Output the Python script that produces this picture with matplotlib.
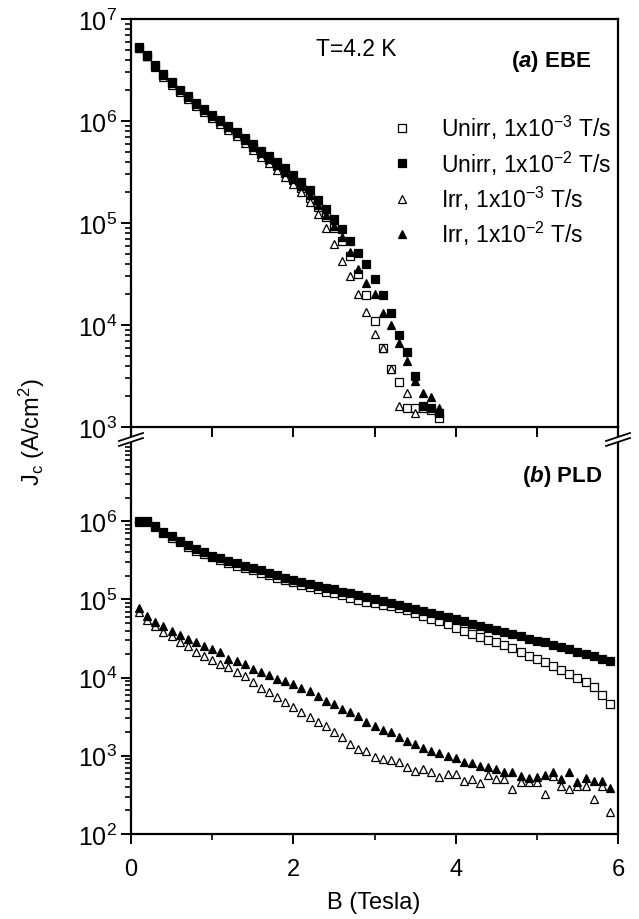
import numpy as np
import matplotlib
matplotlib.use("Agg")
import matplotlib.pyplot as plt
from matplotlib.ticker import FixedLocator, LogLocator, NullFormatter, LogFormatterSciNotation
from matplotlib.lines import Line2D

plt.rcParams['font.family'] = ['Liberation Sans', 'DejaVu Sans']
plt.rcParams['mathtext.fontset'] = 'custom'
plt.rcParams['mathtext.rm'] = 'Liberation Sans'
plt.rcParams['mathtext.it'] = 'Liberation Sans:italic'
plt.rcParams['mathtext.bf'] = 'Liberation Sans:bold'
plt.rcParams['mathtext.bfit'] = 'Liberation Sans:italic:bold'

# ---------------- data (log10 of Jc in A/cm^2) ----------------
# (a) EBE
B_top = [0.1, 0.2, 0.3, 0.4, 0.5, 0.6, 0.7, 0.8, 0.9, 1.0, 1.1, 1.2, 1.3, 1.4, 1.5, 1.6, 1.7, 1.8, 1.9,
         2.0, 2.1, 2.2, 2.3, 2.4, 2.5, 2.6, 2.7, 2.8, 2.9, 3.0, 3.1, 3.2, 3.3, 3.4, 3.5, 3.6, 3.7, 3.8]
top_unirr_3 = [6.72, 6.64, 6.54, 6.45, 6.37, 6.29, 6.23, 6.16, 6.10, 6.04, 5.99, 5.93, 5.87, 5.81, 5.75, 5.68,
               5.62, 5.56, 5.49, 5.42, 5.34, 5.25, 5.16, 5.06, 4.95, 4.82, 4.68, 4.50, 4.29, 4.04, 3.77, 3.57,
               3.44, 3.19, 3.19, 3.19, 3.17, 3.09]
top_unirr_2 = [6.73, 6.65, 6.55, 6.46, 6.38, 6.30, 6.25, 6.18, 6.12, 6.06, 6.01, 5.95, 5.89, 5.83, 5.77, 5.71,
               5.66, 5.60, 5.54, 5.47, 5.40, 5.32, 5.23, 5.14, 5.04, 4.94, 4.82, 4.71, 4.60, 4.45, 4.29, 4.12,
               3.90, 3.74, 3.50, 3.21, 3.19, 3.14]
B_top_irr3 = [0.1, 0.2, 0.3, 0.4, 0.5, 0.6, 0.7, 0.8, 0.9, 1.0, 1.1, 1.2, 1.3, 1.4, 1.5, 1.6, 1.7, 1.8, 1.9,
              2.0, 2.1, 2.2, 2.3, 2.4, 2.5, 2.6, 2.7, 2.8, 2.9, 3.0, 3.1, 3.2, 3.3, 3.4, 3.5]
top_irr_3 = [6.72, 6.64, 6.53, 6.43, 6.35, 6.28, 6.22, 6.15, 6.09, 6.03, 5.97, 5.91, 5.85, 5.78, 5.72, 5.65,
             5.59, 5.52, 5.45, 5.38, 5.30, 5.21, 5.09, 4.95, 4.79, 4.63, 4.48, 4.30, 4.13, 3.91, 3.77, 3.57,
             3.21, 3.33, 3.14]
top_irr_2 = [6.73, 6.64, 6.54, 6.45, 6.37, 6.30, 6.24, 6.17, 6.11, 6.05, 6.00, 5.94, 5.88, 5.81, 5.75, 5.69,
             5.63, 5.57, 5.50, 5.43, 5.36, 5.27, 5.18, 5.08, 4.97, 4.86, 4.72, 4.55, 4.41, 4.30, 4.12, 4.00,
             3.82, 3.65, 3.45, 3.33, 3.29, 3.19]

# (b) PLD
B_bot = [0.1, 0.2, 0.3, 0.4, 0.5, 0.6, 0.7, 0.8, 0.9, 1.0, 1.1, 1.2, 1.3, 1.4, 1.5, 1.6, 1.7, 1.8, 1.9, 2.0,
         2.1, 2.2, 2.3, 2.4, 2.5, 2.6, 2.7, 2.8, 2.9, 3.0, 3.1, 3.2, 3.3, 3.4, 3.5, 3.6, 3.7, 3.8, 3.9, 4.0,
         4.1, 4.2, 4.3, 4.4, 4.5, 4.6, 4.7, 4.8, 4.9, 5.0, 5.1, 5.2, 5.3, 5.4, 5.5, 5.6, 5.7, 5.8, 5.9]
bot_unirr_3 = [5.99, 5.99, 5.93, 5.85, 5.79, 5.73, 5.67, 5.62, 5.58, 5.54, 5.50, 5.46, 5.43, 5.40, 5.37, 5.34,
               5.31, 5.28, 5.25, 5.22, 5.19, 5.16, 5.13, 5.10, 5.08, 5.05, 5.02, 4.99, 4.97, 4.95, 4.93, 4.91,
               4.89, 4.86, 4.82, 4.79, 4.75, 4.72, 4.68, 4.64, 4.60, 4.56, 4.52, 4.48, 4.45, 4.42, 4.38, 4.33,
               4.28, 4.24, 4.20, 4.15, 4.10, 4.05, 4.00, 3.94, 3.88, 3.78, 3.66]
bot_unirr_2 = [6.00, 6.00, 5.94, 5.86, 5.81, 5.75, 5.69, 5.64, 5.60, 5.56, 5.53, 5.49, 5.46, 5.43, 5.40, 5.37,
               5.34, 5.31, 5.28, 5.25, 5.22, 5.20, 5.17, 5.15, 5.13, 5.10, 5.08, 5.06, 5.03, 5.01, 4.98, 4.96,
               4.93, 4.90, 4.88, 4.85, 4.83, 4.80, 4.78, 4.75, 4.72, 4.69, 4.66, 4.64, 4.61, 4.58, 4.56, 4.53,
               4.50, 4.47, 4.45, 4.42, 4.39, 4.36, 4.33, 4.30, 4.27, 4.24, 4.21]
bot_irr_3 = [4.84, 4.74, 4.66, 4.58, 4.53, 4.46, 4.40, 4.33, 4.28, 4.23, 4.17, 4.13, 4.07, 4.02, 3.94, 3.87,
             3.82, 3.75, 3.69, 3.62, 3.56, 3.49, 3.43, 3.38, 3.30, 3.24, 3.15, 3.09, 3.06, 2.98, 2.96, 2.95,
             2.92, 2.86, 2.81, 2.83, 2.79, 2.73, 2.77, 2.77, 2.68, 2.70, 2.65, 2.76, 2.70, 2.70, 2.57, 2.66,
             2.66, 2.66, 2.51, 2.74, 2.61, 2.57, 2.62, 2.61, 2.45, 2.61, 2.28]
bot_irr_2 = [4.89, 4.79, 4.71, 4.66, 4.60, 4.54, 4.49, 4.45, 4.40, 4.37, 4.33, 4.24, 4.21, 4.17, 4.11, 4.07,
             4.03, 3.98, 3.96, 3.92, 3.87, 3.83, 3.77, 3.70, 3.66, 3.60, 3.56, 3.51, 3.43, 3.38, 3.33, 3.30,
             3.24, 3.19, 3.15, 3.10, 3.06, 3.03, 3.00, 2.97, 2.92, 2.91, 2.87, 2.86, 2.83, 2.79, 2.79, 2.74,
             2.72, 2.73, 2.75, 2.79, 2.70, 2.79, 2.67, 2.72, 2.68, 2.68, 2.59]

labels = [r'Unirr, 1x10$^{\mathregular{-3}}$ T/s', r'Unirr, 1x10$^{\mathregular{-2}}$ T/s',
          r'Irr, 1x10$^{\mathregular{-3}}$ T/s', r'Irr, 1x10$^{\mathregular{-2}}$ T/s']

W, H = 639, 920
fig = plt.figure(figsize=(W / 100, H / 100), dpi=100)

def px(x0, y0, x1, y1):
    return [x0 / W, 1 - y1 / H, (x1 - x0) / W, (y1 - y0) / H]

ax2 = fig.add_axes(px(131, 428, 618, 835))
ax1 = fig.add_axes(px(131, 20, 618, 428))
ax2.patch.set_alpha(0)
ax1.patch.set_alpha(0)
ax1.set_zorder(3)
ax2.set_zorder(2)

sq = dict(marker='s', ms=5.6, mew=0.9, ls='none')
tr = dict(marker='^', ms=6.4, mew=0.9, ls='none')

def P(v):
    return 10 ** np.array(v)

for ax, Bsq, u3, u2, Btr3, i3, Btr2, i2 in [
        (ax1, B_top, top_unirr_3, top_unirr_2, B_top_irr3, top_irr_3, B_top, top_irr_2),
        (ax2, B_bot, bot_unirr_3, bot_unirr_2, B_bot, bot_irr_3, B_bot, bot_irr_2)]:
    ax.plot(Bsq, P(u3), mfc='white', mec='black', label=labels[0], **sq)
    ax.plot(Bsq, P(u2), mfc='black', mec='black', label=labels[1], **sq)
    ax.plot(Btr3, P(i3), mfc='white', mec='black', label=labels[2], **tr)
    ax.plot(Btr2, P(i2), mfc='black', mec='black', label=labels[3], **tr)

for ax in (ax1, ax2):
    ax.set_yscale('log')
    ax.set_xlim(0, 6)
    for s in ax.spines.values():
        s.set_linewidth(1.6)
    ax.tick_params(axis='y', which='major', direction='out', length=7, width=1.4,
                   labelsize=18, pad=3, right=False)
    ax.tick_params(axis='y', which='minor', direction='out', length=4, width=1.2, right=False)
    ax.tick_params(axis='x', which='both', top=False)

ax1.set_ylim(1e3, 1e7)
ax1.yaxis.set_major_locator(FixedLocator([1e3, 1e4, 1e5, 1e6, 1e7]))
ax1.yaxis.set_minor_locator(LogLocator(base=10, subs=np.arange(2, 10), numticks=20))
ax1.yaxis.set_major_formatter(LogFormatterSciNotation())
ax1.yaxis.set_minor_formatter(NullFormatter())
ax1.xaxis.set_major_locator(FixedLocator([0, 1, 2, 3, 4, 5, 6]))
ax1.tick_params(axis='x', which='major', direction='out', length=7, width=1.4, labelbottom=False)

ax2.set_ylim(1e2, 10 ** (2 + 407 / 78.2))
ax2.yaxis.set_major_locator(FixedLocator([1e2, 1e3, 1e4, 1e5, 1e6]))
minors = [m * 10 ** e for e in range(2, 7) for m in range(2, 10)]
ax2.yaxis.set_minor_locator(FixedLocator(minors))
ax2.yaxis.set_major_formatter(LogFormatterSciNotation())
ax2.yaxis.set_minor_formatter(NullFormatter())
ax2.spines['top'].set_visible(False)
ax2.xaxis.set_major_locator(FixedLocator([0, 2, 4, 6]))
ax2.xaxis.set_minor_locator(FixedLocator([1, 3, 5]))
ax2.tick_params(axis='x', which='major', direction='out', length=7, width=1.4, labelsize=17, pad=10)
ax2.tick_params(axis='x', which='minor', direction='out', length=4, width=1.2)

# break marks
def fx(x):
    return x / W

def fy(y):
    return 1 - y / H

for xc in (131, 618):
    fig.patches.append(plt.Polygon([[fx(xc - 12), fy(442)], [fx(xc + 12), fy(434)],
                                    [fx(xc + 12), fy(439)], [fx(xc - 12), fy(447)]],
                                   closed=True, transform=fig.transFigure, facecolor='white',
                                   edgecolor='none', zorder=10))
    for dy in (0, 5):
        fig.lines.append(Line2D([fx(xc - 12), fx(xc + 12)], [fy(442 + dy), fy(434 + dy)],
                                transform=fig.transFigure, color='black', lw=1.3, zorder=11))

# texts
fig.text(fx(316), fy(50), 'T=4.2 K', fontsize=16.5, va='center', ha='left')
fig.text(fx(591), fy(62), r'$\mathbf{(}\mathbfit{a}\mathbf{)\ EBE}$', fontsize=16, va='center', ha='right')
fig.text(fx(602), fy(477), r'$\mathbf{(}\mathbfit{b}\mathbf{)\ PLD}$', fontsize=16, va='center', ha='right')

leg = ax1.legend(loc='upper left', bbox_to_anchor=(fx(391), fy(114)), bbox_transform=fig.transFigure,
                 frameon=False, fontsize=16.5, numpoints=1, handlelength=1.0, handletextpad=1.2,
                 labelspacing=0.31, borderpad=0, borderaxespad=0)

fig.text(fx(32), fy(432), r'J$_\mathregular{c}$ (A/cm$^\mathregular{2}$)', rotation=90,
         fontsize=17, va='center', ha='center')
fig.text(fx(374), fy(903), 'B (Tesla)', fontsize=17, va='center', ha='center')

fig.savefig('out.png', dpi=100)
